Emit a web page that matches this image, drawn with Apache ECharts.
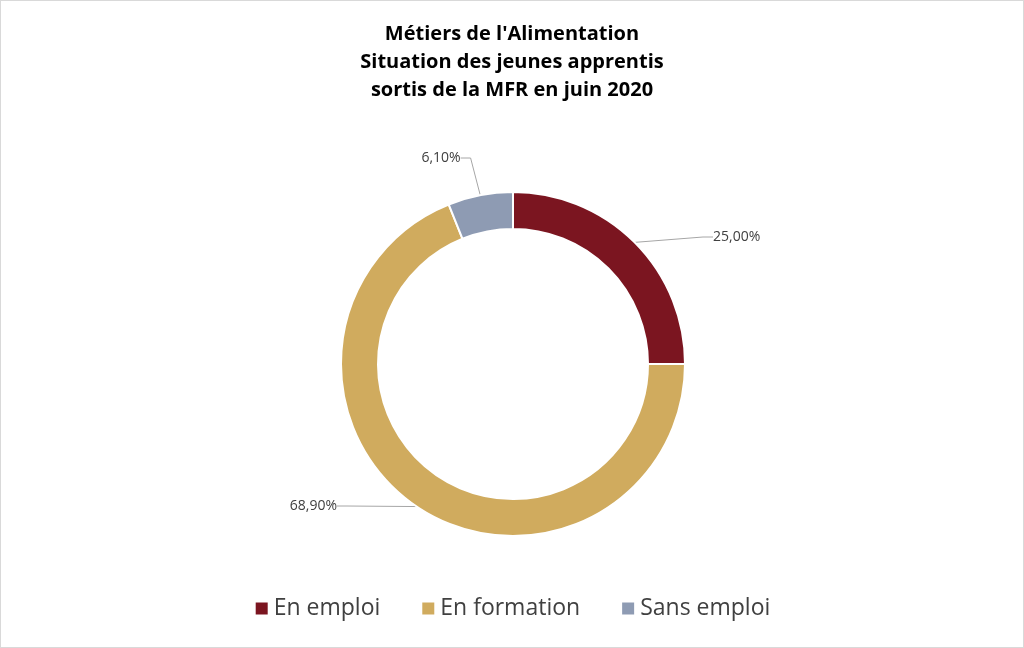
<!DOCTYPE html>
<html><head><meta charset="utf-8">
<script src="https://cdn.jsdelivr.net/npm/echarts@6/dist/echarts.min.js"></script>
<style>html,body{margin:0;padding:0;background:#fff}
#c{position:absolute;left:0;top:0;width:1022px;height:646px;border:1px solid #d9d9d9}</style>
</head><body><div id="c"></div>
<script>
const categories = ['En emploi','En formation','Sans emploi'];
const values = [25.0, 68.9, 6.1];
const colors = ['#7B1520','#D0AB5E','#8E9BB3'];
const labelPos = [[712,236,'left'],[336,505,'right'],[440,157,'center']];
const chart = echarts.init(document.getElementById('c'));
chart.setOption({
  title:{text:"Métiers de l'Alimentation\nSituation des jeunes apprentis\nsortis de la MFR en juin 2020",
    left:'center',top:14,textStyle:{fontFamily:'Open Sans',fontSize:20,fontWeight:'bold',color:'#000',lineHeight:28}},
  legend:{bottom:22,left:'center',itemWidth:14,itemHeight:14,itemGap:40,icon:'rect',
    textStyle:{fontFamily:'Open Sans',fontSize:23,color:'#404040'}},
  series:[{type:'pie',center:[512,363],radius:[135,172],startAngle:90,clockwise:true,
    itemStyle:{borderColor:'#fff',borderWidth:2},
    label:{show:true,position:'outside',fontFamily:'Open Sans',fontSize:14,color:'#404040',
      formatter:p=>p.value.toFixed(2).replace('.',',')+'%'},
    labelLine:{show:true,length:10,length2:10,lineStyle:{color:'#a6a6a6',width:1}},
    labelLayout:function(p){const q=labelPos[p.dataIndex];
      return {x:q[0],y:q[1],align:q[2],verticalAlign:'middle'};},
    emphasis:{disabled:true},
    data:categories.map((n,i)=>({name:n,value:values[i],itemStyle:{color:colors[i]}}))
  }]
});
</script></body></html>
